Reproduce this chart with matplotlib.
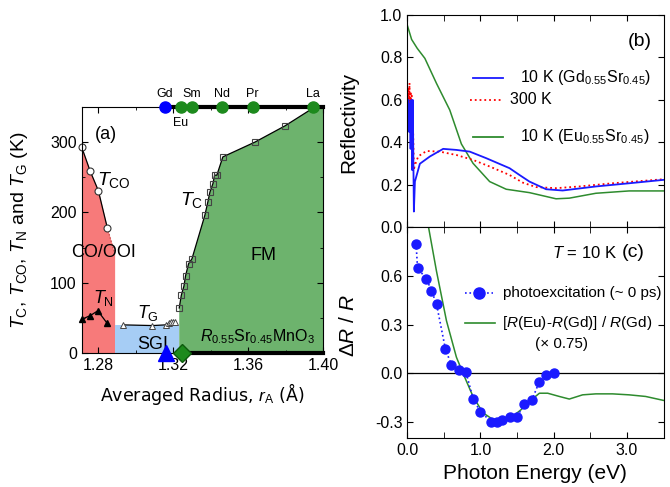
import numpy as np
import matplotlib
matplotlib.use('Agg')
import matplotlib.pyplot as plt
from matplotlib.ticker import MultipleLocator, FormatStrFormatter

plt.rcParams['font.family'] = ['Liberation Sans', 'DejaVu Sans']
plt.rcParams['mathtext.fontset'] = 'custom'
plt.rcParams['mathtext.rm'] = 'Liberation Sans'
plt.rcParams['mathtext.it'] = 'Liberation Sans:italic'
plt.rcParams['mathtext.bf'] = 'Liberation Sans:bold'
plt.rcParams['axes.unicode_minus'] = False

# ---- (a) phase diagram of R0.55Sr0.45MnO3
r_co = [1.2711, 1.2756, 1.2800, 1.2848]
T_co = [293, 259, 231, 178]
r_co_edge = 1.2887
T_co_edge = 142

r_n = [1.2711, 1.2756, 1.2797, 1.2845]
T_n = [48, 53, 60, 43]

r_g = [1.2933, 1.3089, 1.3159, 1.3180, 1.3190, 1.3200, 1.3212]
T_g = [40, 39, 40, 43, 44, 44, 44]
T_sgi = 40

r_c = [1.3232, 1.3243, 1.3257, 1.3266, 1.3282, 1.3300, 1.3369, 1.3385,
       1.3396, 1.3412, 1.3421, 1.3433, 1.3465, 1.3636, 1.3796, 1.3956]
T_c = [64, 82, 95, 110, 127, 134, 196, 215, 229, 241, 253, 253, 279, 300, 323, 350]

elements = ['Gd', 'Eu', 'Sm', 'Nd', 'Pr', 'La']
r_elem = [1.3156, 1.3241, 1.3300, 1.3460, 1.3625, 1.3945]
r_gd_sample = 1.3161
r_eu_sample = 1.3245

# ---- (b) reflectivity spectra
E_gd = [0.005, 0.015, 0.025, 0.035, 0.045, 0.055, 0.062, 0.068, 0.075, 0.082,
        0.090, 0.104, 0.172, 0.308, 0.490, 0.671, 0.853, 1.079, 1.397, 1.533,
        1.669, 1.896, 2.122, 2.576, 3.030, 3.497]
R_gd = [0.50, 0.60, 0.45, 0.58, 0.37, 0.60, 0.45, 0.27, 0.60, 0.35,
        0.075, 0.216, 0.300, 0.334, 0.370, 0.365, 0.357, 0.326, 0.279, 0.247,
        0.216, 0.180, 0.174, 0.193, 0.208, 0.224]

E_300 = [0.005, 0.015, 0.022, 0.030, 0.038, 0.045, 0.052, 0.060, 0.070, 0.080,
         0.090, 0.100, 0.150, 0.263, 0.444, 0.671, 0.898, 1.125, 1.397, 1.578,
         1.760, 2.032, 2.349, 2.803, 3.497]
R_300 = [0.55, 0.66, 0.50, 0.68, 0.55, 0.64, 0.48, 0.62, 0.50, 0.45,
         0.27, 0.29, 0.335, 0.360, 0.357, 0.341, 0.318, 0.287, 0.247, 0.211,
         0.190, 0.185, 0.193, 0.208, 0.227]

E_eu = [0.0, 0.059, 0.136, 0.240, 0.399, 0.580, 0.739, 0.898, 1.125, 1.351,
        1.669, 2.032, 2.213, 2.576, 3.030, 3.497]
R_eu = [0.952, 0.885, 0.843, 0.796, 0.678, 0.553, 0.393, 0.302, 0.216, 0.180,
        0.164, 0.135, 0.138, 0.161, 0.172, 0.172]

# ---- (c) photoinduced change and static difference
E_pump = [0.12, 0.14, 0.26, 0.33, 0.40, 0.52, 0.60, 0.70, 0.80, 0.90, 1.00,
          1.15, 1.22, 1.30, 1.40, 1.50, 1.60, 1.70, 1.80, 1.90, 2.00]
dR_pump = [0.801, 0.649, 0.584, 0.511, 0.426, 0.152, 0.055, 0.020, 0.010, -0.158,
           -0.237, -0.298, -0.298, -0.288, -0.268, -0.268, -0.187, -0.166, -0.055,
           -0.010, 0.0]

E_diff = [0.28, 0.295, 0.399, 0.535, 0.671, 0.762, 0.898, 1.034, 1.170, 1.306,
          1.442, 1.556, 1.669, 1.805, 1.918, 2.077, 2.213, 2.395, 2.576, 2.803,
          3.030, 3.256, 3.497]
dR_diff = [0.93, 0.89, 0.63, 0.325, 0.10, 0.0, -0.142, -0.243, -0.284, -0.284,
           -0.264, -0.223, -0.172, -0.122, -0.122, -0.142, -0.158, -0.132, -0.126,
           -0.126, -0.132, -0.142, -0.166]

red_fill = '#f77a7a'
blue_fill = '#a6cdf5'
green_fill = '#6db36d'
dot_green = '#1d8a1d'
line_green = '#2e8b2e'
line_blue = '#1a1aff'

fig = plt.figure(figsize=(6.7, 4.87), dpi=100)
axa = fig.add_axes([0.1219, 0.2752, 0.3602, 0.5051])
axb = fig.add_axes([0.6079, 0.5329, 0.3824, 0.4363])
axc = fig.add_axes([0.6079, 0.1000, 0.3824, 0.4329])

# ---------------- panel (a)
xmax = 1.40
ax = axa
ax.fill_between(r_co + [r_co_edge], T_co + [T_co_edge], 0, color=red_fill, lw=0)
ax.fill_between([r_co_edge, r_c[0]], T_sgi, 0, color=blue_fill, lw=0)
ax.fill([r_c[0]] + r_c + [xmax, xmax], [0] + T_c + [350, 0], color=green_fill, lw=0)

ax.plot(r_co, T_co, '-', color='k', lw=0.9)
ax.plot([r_co[-1], r_co_edge], [T_co[-1], T_co_edge], ':', color='#c04040', lw=0.9)
ax.plot(r_co, T_co, 'o', ms=5, mfc='white', mec='#333333', mew=0.8, clip_on=False)
ax.plot(r_n, T_n, '^-', ms=5, color='k', lw=0.9, clip_on=False)
ax.plot(r_g, T_g, '^-', ms=5, color='k', mfc='white', mec='#444444', mew=0.7, lw=0.9)
ax.plot(r_c, T_c, '-', color='k', lw=0.9)
ax.plot(r_c, T_c, 's', ms=4.5, mfc='none', mec='#444444', mew=0.8, clip_on=False)

ax.plot([r_elem[0], xmax], [350, 350], '-', color='k', lw=3, clip_on=False, zorder=4)
ax.plot([r_eu_sample, xmax], [0, 0], '-', color='k', lw=3, clip_on=False, zorder=4)
for i, (name, r) in enumerate(zip(elements, r_elem)):
    c = 'blue' if name == 'Gd' else dot_green
    ax.plot(r, 350, 'o', ms=8, color=c, clip_on=False, zorder=5)
    if name == 'Eu':
        ax.annotate(name, (r, 350), xytext=(0, -7), textcoords='offset points',
                    ha='center', va='top', fontsize=9)
    else:
        ax.annotate(name, (r, 350), xytext=(0, 5), textcoords='offset points',
                    ha='center', va='bottom', fontsize=9)
ax.plot(r_gd_sample, 0, '^', ms=11, color='blue', clip_on=False, zorder=6)
ax.plot(r_eu_sample, 0, 'D', ms=9, color=dot_green, mec='#0d5a0d', clip_on=False, zorder=6)

ax.set_xlim(1.2711, xmax)
ax.set_ylim(0, 350)
ax.xaxis.set_major_locator(MultipleLocator(0.04))
ax.xaxis.set_minor_locator(MultipleLocator(0.02))
ax.xaxis.set_major_formatter(FormatStrFormatter('%.2f'))
ax.yaxis.set_major_locator(MultipleLocator(100))
ax.yaxis.set_minor_locator(MultipleLocator(50))
ax.tick_params(which='both', direction='in', top=True, right=True, labelsize=11.5)
ax.tick_params(which='major', length=4)
ax.tick_params(which='minor', length=2.5)
ax.set_xlabel(r'Averaged Radius, $r_{\rm A}$ (Å)', fontsize=12.5, family='DejaVu Sans')
ax.xaxis.set_label_coords(0.5, -0.115)
ax.set_ylabel(r'$T_{\rm C}$, $T_{\rm CO}$, $T_{\rm N}$ and $T_{\rm G}$ (K)', fontsize=14)
ax.yaxis.set_label_coords(-0.215, 0.5)

ax.text(0.1, 0.89, '(a)', transform=ax.transAxes, ha='center', va='center', fontsize=13)
ax.text(0.062, 0.683, r'$T_{\rm CO}$', transform=ax.transAxes, ha='left', va='baseline', fontsize=14)
ax.text(0.0895, 0.407, 'CO/OOI', transform=ax.transAxes, ha='center', va='center', fontsize=13)
ax.text(0.047, 0.202, r'$T_{\rm N}$', transform=ax.transAxes, ha='left', va='baseline', fontsize=13)
ax.text(0.228, 0.141, r'$T_{\rm G}$', transform=ax.transAxes, ha='left', va='baseline', fontsize=13)
ax.text(0.295, 0.036, 'SGI', transform=ax.transAxes, ha='center', va='center', fontsize=13)
ax.text(0.408, 0.602, r'$T_{\rm C}$', transform=ax.transAxes, ha='left', va='baseline', fontsize=14)
ax.text(0.753, 0.398, 'FM', transform=ax.transAxes, ha='center', va='center', fontsize=13)
ax.text(0.49, 0.046, r'$R_{0.55}$Sr$_{0.45}$MnO$_3$', transform=ax.transAxes,
        ha='left', va='baseline', fontsize=11.5)

# ---------------- panel (b)
ax = axb
ax.plot(E_eu, R_eu, '-', color=line_green, lw=1.1)
ax.plot(E_300, R_300, ':', color='red', lw=1.3)
ax.plot(E_gd, R_gd, '-', color=line_blue, lw=1.3)
ax.set_xlim(0, 3.5)
ax.set_ylim(0, 1.0)
ax.xaxis.set_major_locator(MultipleLocator(1.0))
ax.xaxis.set_minor_locator(MultipleLocator(0.5))
ax.yaxis.set_major_locator(MultipleLocator(0.2))
ax.yaxis.set_major_formatter(FormatStrFormatter('%.1f'))
ax.tick_params(which='both', direction='in', top=True, right=True, labelsize=11.5)
ax.tick_params(which='major', length=4)
ax.tick_params(which='minor', length=4)
ax.tick_params(axis='x', labelbottom=False)
ax.set_ylabel('Reflectivity', fontsize=15)
ax.yaxis.set_label_coords(-0.192, 0.494)

tr = ax.transAxes
ax.plot([0.257, 0.374], [0.7035, 0.7035], '-', color=line_blue, lw=1.3, transform=tr)
ax.text(0.44, 0.7035, r'10 K (Gd$_{0.55}$Sr$_{0.45}$)', transform=tr, va='center', fontsize=11.5)
ax.plot([0.245, 0.369], [0.6, 0.6], ':', color='red', lw=1.3, transform=tr)
ax.text(0.40, 0.6, '300 K', transform=tr, va='center', fontsize=11.5)
ax.plot([0.257, 0.374], [0.426, 0.426], '-', color=line_green, lw=1.3, transform=tr)
ax.text(0.44, 0.426, r'10 K (Eu$_{0.55}$Sr$_{0.45}$)', transform=tr, va='center', fontsize=11.5)
ax.text(0.907, 0.873, '(b)', transform=tr, ha='center', va='center', fontsize=14)

# ---------------- panel (c)
ax = axc
ax.axhline(0, color='k', lw=0.9)
ax.plot(E_diff, dR_diff, '-', color=line_green, lw=1.1)
ax.plot(E_pump, dR_pump, 'o:', color=line_blue, ms=6.5, lw=1.2)
ax.set_xlim(0, 3.5)
ax.set_ylim(-0.4, 0.9)
ax.xaxis.set_major_locator(MultipleLocator(1.0))
ax.xaxis.set_minor_locator(MultipleLocator(0.5))
ax.xaxis.set_major_formatter(FormatStrFormatter('%.1f'))
ax.set_yticks([-0.3, 0.0, 0.3, 0.6, 0.9])
ax.set_yticklabels(['-0.3', '0.0', '0.3', '0.6', ''])
ax.tick_params(which='both', direction='in', top=True, right=True, labelsize=11.5)
ax.tick_params(which='major', length=4)
ax.tick_params(which='minor', length=4)
ax.set_xlabel('Photon Energy (eV)', fontsize=15)
ax.set_ylabel(r'$\Delta R$ / $R$', fontsize=15)
ax.yaxis.set_label_coords(-0.192, 0.537)

tr = ax.transAxes
ax.text(0.565, 0.879, r'$T$ = 10 K', transform=tr, va='center', fontsize=12)
ax.text(0.838, 0.879, '(c)', transform=tr, va='center', fontsize=14)
ax.plot([0.225, 0.334], [0.689, 0.689], ':', color=line_blue, lw=1.2, transform=tr)
ax.plot([0.28], [0.689], 'o', color=line_blue, ms=8, transform=tr)
ax.text(0.372, 0.689, 'photoexcitation (~ 0 ps)', transform=tr, va='center', fontsize=11)
ax.plot([0.225, 0.342], [0.548, 0.548], '-', color=line_green, lw=1.2, transform=tr)
ax.text(0.370, 0.548, r'[$R$(Eu)-$R$(Gd)] / $R$(Gd)', transform=tr, va='center', fontsize=11)
ax.text(0.603, 0.448, '(× 0.75)', transform=tr, ha='center', va='center', fontsize=11)

fig.savefig('out.png', dpi=100)
